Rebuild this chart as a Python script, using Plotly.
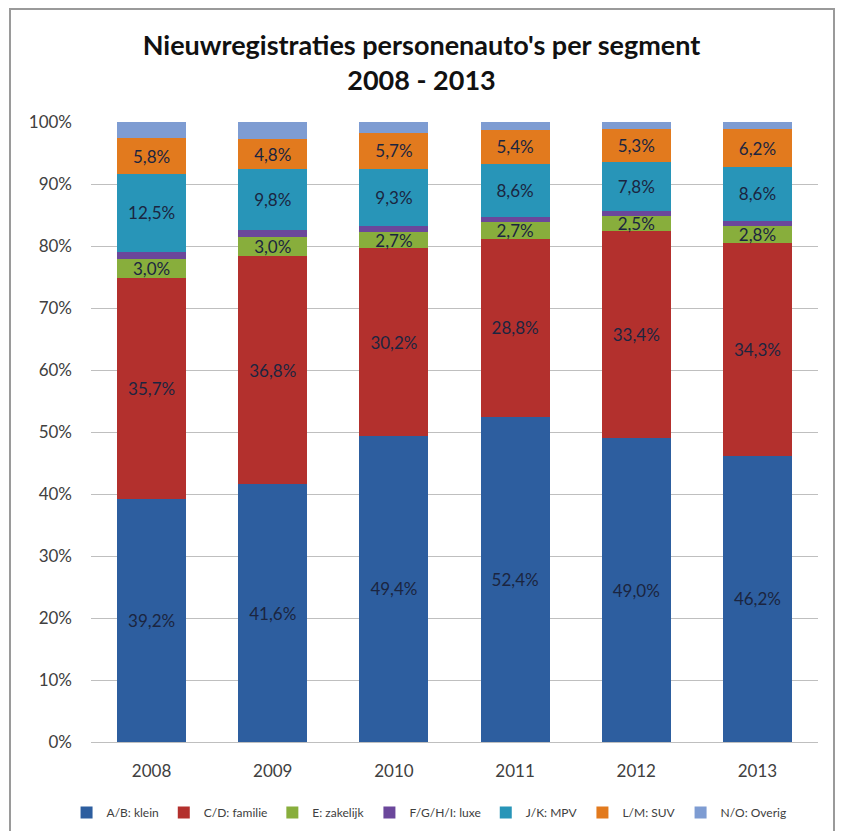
import plotly.graph_objects as go

years = ["2008", "2009", "2010", "2011", "2012", "2013"]

segments = ["A/B: klein", "C/D: familie", "E: zakelijk", "F/G/H/I: luxe",
            "J/K: MPV", "L/M: SUV", "N/O: Overig"]

klein = [39.2, 41.6, 49.4, 52.4, 49.0, 46.2]
familie = [35.7, 36.8, 30.2, 28.8, 33.4, 34.3]
zakelijk = [3.0, 3.0, 2.7, 2.7, 2.5, 2.8]
luxe = [1.2, 1.2, 0.9, 0.8, 0.8, 0.8]
mpv = [12.5, 9.8, 9.3, 8.6, 7.8, 8.6]
suv = [5.8, 4.8, 5.7, 5.4, 5.3, 6.2]
overig = [2.6, 2.8, 1.8, 1.3, 1.2, 1.1]

series = [klein, familie, zakelijk, luxe, mpv, suv, overig]
colors = ["#2D5E9F", "#B3302D", "#88AE3C", "#6B479B", "#2895B8", "#E27A1E", "#7E9CD2"]
show_labels = [True, True, True, False, True, True, False]

FONT = "Lato, 'Open Sans', sans-serif"

fig = go.Figure()
for name, vals, col, lab in zip(segments, series, colors, show_labels):
    fig.add_trace(go.Bar(
        x=years, y=vals, name=name,
        marker=dict(color=col, line=dict(width=0)),
        text=[f"{v:.1f}%".replace(".", ",") for v in vals] if lab else None,
        textposition="inside" if lab else "none",
        insidetextanchor="middle",
        textangle=0,
        textfont=dict(family=FONT, size=17, color="#1B2540"),
        hoverinfo="skip",
    ))

# page body adds an 8px margin, so the figure is sized to fit inside it
fig.update_layout(
    width=827, height=823,
    barmode="stack", bargap=0.43,
    plot_bgcolor="white", paper_bgcolor="white",
    margin=dict(l=83, r=17, t=114, b=89),
    font=dict(family=FONT, color="#404040"),
    title=dict(text="<b>Nieuwregistraties personenauto's per segment<br>2008 - 2013</b>",
               x=0.5, xanchor="center", y=1 - 47 / 823, yanchor="top",
               font=dict(size=27, color="#111111")),
    uniformtext=dict(minsize=17, mode="show"),
    legend=dict(orientation="h", x=0.465, xanchor="center",
                yref="container", y=1 - 790 / 823, yanchor="top",
                traceorder="normal", font=dict(size=12, color="#404040"),
                itemwidth=30, tracegroupgap=0),
    # chart frame
    shapes=[dict(type="rect", xref="paper", yref="paper",
                 x0=-81 / 727, x1=1 + 16 / 727, y0=-120 / 620, y1=1 + 113 / 620,
                 line=dict(color="#9A9A9A", width=2), fillcolor="rgba(0,0,0,0)", layer="below")],
)
fig.update_xaxes(showgrid=False, showline=True, linecolor="#BFBFBF", ticks="",
                 tickfont=dict(size=17, color="#404040"), ticklabelstandoff=14)
fig.update_yaxes(range=[0, 100], dtick=10, ticksuffix="%", showgrid=True,
                 gridcolor="#BFBFBF", gridwidth=1, zeroline=False, showline=False,
                 tickfont=dict(size=17, color="#404040"), ticklabelstandoff=18)

fig.write_html("out.html")
